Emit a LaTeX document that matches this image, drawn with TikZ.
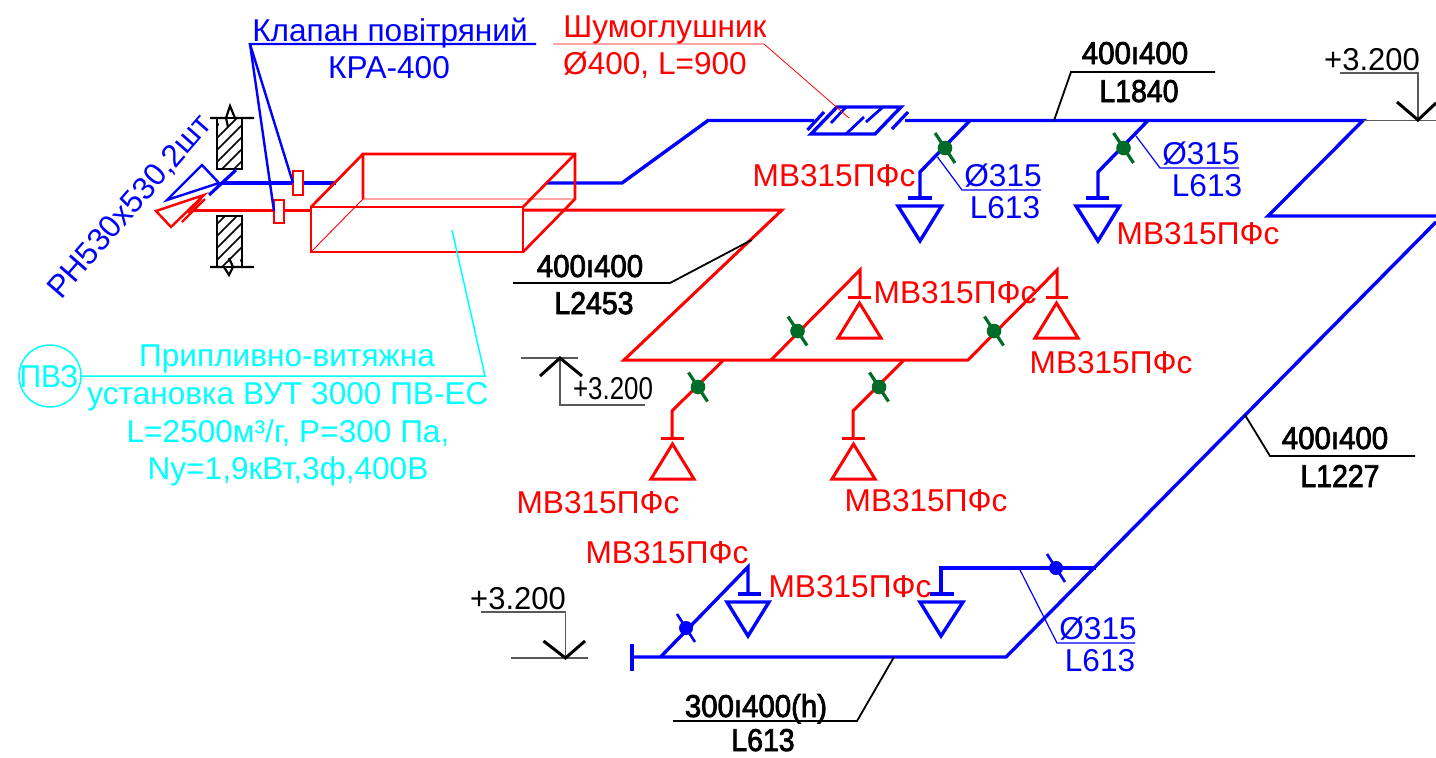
\documentclass[tikz,border=0pt]{standalone}
\usepackage{fontspec}
\usepackage{graphicx}
\setmainfont{Liberation Sans}
\newfontfamily\blkfont[FakeBold=2.5]{Liberation Sans}
\definecolor{pblue}{RGB}{0,0,255}
\definecolor{pred}{RGB}{255,0,0}
\definecolor{pcyan}{RGB}{0,255,255}
\definecolor{pgreen}{RGB}{0,108,40}
\definecolor{pgray}{RGB}{90,90,90}
\newcommand{\sx}[2]{\scalebox{#1}[1]{#2}}
\tikzset{
  lab/.style={inner sep=0pt,anchor=base,font=\fontsize{31.6}{32}\selectfont},
  redlab/.style={lab,text=pred},
  bluelab/.style={lab,text=pblue},
  cyanlab/.style={lab,text=pcyan},
  blacklab/.style={lab,text=black},
  boldlab/.style={lab,text=black,font=\fontsize{31.6}{32}\blkfont},
  bduct/.style={draw=pblue,line width=3.4pt,line join=miter},
  rduct/.style={draw=pred,line width=3pt,line join=miter},
  bthin/.style={draw=pblue,line width=1.2pt},
  rbox/.style={draw=pred,line width=2.7pt},
  blead/.style={draw=pblue,line width=2.4pt},
  lead/.style={draw=black,line width=1.8pt},
  glead/.style={draw=pgray,line width=1.4pt},
  chev/.style={draw=black,line width=3pt},
  wall/.style={draw=black,line width=2.2pt},
  gdamp/.style={draw=pgreen,line width=3.2pt},
  gdot/.style={fill=pgreen,draw=none},
  bdot/.style={fill=pblue,draw=none},
}
\begin{document}
\begin{tikzpicture}[x=1pt,y=-1pt]
\useasboundingbox (0,0) rectangle (1436,758);
% walls
\foreach \ya/\yb in {118/169,216/267}{
 \begin{scope}
  \clip (217,\ya) rectangle (242,\yb);
  \foreach \k in {0,...,7}{\draw[black,line width=1.7pt] (210,\ya+\k*12+3) -- (250,\ya+\k*12-37);}
 \end{scope}
 \draw[wall] (217,\ya) rectangle (242,\yb);
}
\fill[white] (219,119) -- (227,119) -- (226,125) -- (219,130) -- cycle;
\fill[white] (240,266) -- (232,266) -- (233,260) -- (240,255) -- cycle;
\draw[wall] (210,118) -- (226,118) -- (230,106) -- (235,118) -- (254,118);
\draw[wall] (226,118) -- (228,127);
\draw[wall] (210,267) -- (224,267) -- (229,275) -- (233,267) -- (254,267);
\draw[wall] (233,267) -- (229,258);
% blue supply line
\draw[bduct] (222,183) -- (336,183);
\draw[bduct] (546,183) -- (622,183) -- (708,120.5) -- (814,120.5);
\draw[bduct] (905,120.5) -- (1363,120.5) -- (1268,216) -- (1436,216);
\draw[bduct] (1436,222) -- (1006,657) -- (632,657);
\draw[bduct] (632,644) -- (632,671);
% grille blue
\draw[blead,line join=miter] (167,200) -- (202,165) -- (219,183) -- cycle;
\draw[draw=pblue,line width=3.2pt] (209,195) -- (236,170);
% grille red
\draw[draw=pred,line width=2.4pt] (156,211) -- (171,227) -- (204,195) -- cycle;
\draw[draw=pred,line width=2.2pt] (182,222) -- (205,199);
\draw[draw=pred,line width=2.2pt] (188,213) -- (201,199);
% red main
\draw[rduct] (193,210) -- (311,210);
\draw[rduct] (523,210) -- (782,210) -- (624,360) -- (968,360) -- (1057,270) -- (1057,297);
\draw[rduct] (771,360) -- (860,270) -- (860,297);
\draw[rduct] (723.5,360) -- (672,411) -- (672,438);
\draw[rduct] (904,360) -- (853,411) -- (853,438);
% red bars
\draw[rduct] (1046,297) -- (1068,297);
\draw[rduct] (848,297) -- (871,297);
\draw[rduct] (661,438) -- (684,438);
\draw[rduct] (842,438) -- (865,438);
% red diffusers
\draw[rduct] (1056.5,303) -- (1035,338) -- (1078,338) -- cycle;
\draw[rduct] (859.5,303) -- (838,338) -- (881,338) -- cycle;
\draw[rduct] (672.5,444) -- (651,479) -- (694,479) -- cycle;
\draw[rduct] (853.5,444) -- (832,479) -- (875,479) -- cycle;
% dampers red branch
\foreach \cx/\cy in {698/387,879/387,797.5/331,994/331}{
 \draw[gdamp] (\cx-9.5,\cy-14.5) -- (\cx+9.5,\cy+14.5);
 \fill[gdot] (\cx,\cy) circle (7.3);
}
% blue branches upper
\draw[bduct] (970,120.5) -- (920,172) -- (920,198);
\draw[bduct] (908,198) -- (932,198);
\draw[bduct] (898,206) -- (941.5,206) -- (920,241) -- cycle;
\draw[bduct] (1148,120.5) -- (1098,172) -- (1098,198);
\draw[bduct] (1086,198) -- (1109,198);
\draw[bduct] (1076,206) -- (1119.5,206) -- (1098,241) -- cycle;
\foreach \cx/\cy in {945/148,1123.5/148}{
 \draw[gdamp] (\cx-10,\cy-15) -- (\cx+10,\cy+15);
 \fill[gdot] (\cx,\cy) circle (7.3);
}
% blue branches lower
\draw[bduct] (660.5,657) -- (748,567) -- (748,594);
\draw[bduct] (738,594) -- (761,594);
\draw[bduct] (727,602) -- (769,602) -- (748,636) -- cycle;
\draw[bduct] (1095.5,568) -- (941,568) -- (941,594);
\draw[bduct] (930,594) -- (954,594);
\draw[bduct] (920,602) -- (963,602) -- (941,636) -- cycle;
\foreach \cx/\cy/\dx/\dy in {686/628/9/14,1056/568/9/14}{
 \draw[draw=pblue,line width=2.6pt] (\cx-\dx,\cy-\dy) -- (\cx+\dx,\cy+\dy);
 \fill[bdot] (\cx,\cy) circle (7);
}
% silencer
\draw[bduct] (811,134) -- (875,134) -- (901,107) -- (837,107) -- cycle;
\draw[draw=pblue,line width=3.2pt] (807.5,130) -- (824,112);
\draw[draw=pblue,line width=3.2pt] (892,129) -- (908,112);
\draw[draw=pblue,line width=2.8pt] (831,123) -- (846,107);
\draw[draw=pblue,line width=2.8pt] (846,134) -- (864,117);
\draw[draw=pblue,line width=2.8pt] (866,122) -- (883,107);
\draw[draw=pred,line width=.8pt] (553,44) -- (764,44) -- (849,118);
% box
\draw[draw=pred,line width=.9pt] (311,252) -- (363,199) -- (575,199);
\draw[rbox] (363,199) -- (363,154) -- (575,154) -- (575,199) -- (523,252);
\draw[rbox] (311,207) -- (363,154);
\draw[rbox] (523,207) -- (575,154);
\draw[rbox] (311,207) rectangle (523,252);
% small dampers
\draw[draw=pred,line width=2.8pt,fill=white] (293,171) rectangle (303,195);
\draw[draw=pred,line width=2.8pt,fill=white] (274,200) rectangle (284,223);
% valve leader
\draw[blead] (536,44) -- (250,44) -- (293,183);
\draw[blead] (250,44) -- (274,211);
% cyan
\draw[draw=pcyan,line width=1.5pt] (50,376) circle (31);
\draw[draw=pcyan,line width=1.5pt] (81,376) -- (485,376) -- (452,230);
% blue leaders
\draw[bthin] (937.5,157) -- (962,190) -- (1041,190);
\draw[bthin] (1136,136) -- (1160,168) -- (1239,168);
\draw[bthin] (1019,568) -- (1057,643) -- (1135,643);
% black leaders
\draw[lead] (1054,120.5) -- (1071,72) -- (1215,72);
\draw[lead] (751.5,240) -- (670,283) -- (513,283);
\draw[lead] (1245,415) -- (1270,456) -- (1415,456);
\draw[lead] (894,657) -- (857,721) -- (673,721);
% level marks
\draw[glead] (1340,73) -- (1418,73) -- (1418,120);
\draw[glead] (1363,120.5) -- (1436,120.5);
\draw[chev] (1397,102) -- (1418,120) -- (1436,103);
\draw[glead] (521,358) -- (578,358);
\draw[glead] (560,358) -- (560,405) -- (645,405);
\draw[chev] (540,376) -- (560,358) -- (582,376);
\draw[glead] (481,612) -- (565.5,612) -- (565.5,658);
\draw[glead] (511,658) -- (587.5,658);
\draw[chev] (543.5,641) -- (565.5,658) -- (585,641);
% labels
\node[bluelab] (valve1) at (390,41) {Клапан повітряний};
\node[bluelab] (valve2) at (389,78) {КРА-400};
\node[redlab] (sil1) at (665,37) {Шумоглушник};
\node[redlab] (sil2) at (655,74) {Ø400, L=900};
\node[bluelab,rotate=49] (grille) at (137,213) {РН530х530,2шт};
\node[cyanlab] (pvz) at (49,387) {\sx{.95}{ПВЗ}};
\node[cyanlab] (c1) at (287,366) {Припливно-витяжна};
\node[cyanlab] (c2) at (288,404) {установка ВУТ 3000 ПВ-ЕС};
\node[cyanlab] (c3) at (288,442) {L=2500м³/г, P=300 Па,};
\node[cyanlab] (c4) at (288,479) {Ny=1,9кВт,3ф,400В};
\node[redlab] (m1) at (834,186) {МВ315ПФс};
\node[redlab] (m2) at (1198,244) {МВ315ПФс};
\node[redlab] (m3) at (955,303) {МВ315ПФс};
\node[redlab] (m4) at (1111,373) {МВ315ПФс};
\node[redlab] (m5) at (598,513) {МВ315ПФс};
\node[redlab] (m6) at (926,511) {МВ315ПФс};
\node[redlab] (m7) at (667,563) {МВ315ПФс};
\node[redlab] (m8) at (850,597) {МВ315ПФс};
\node[bluelab] (d1) at (1003,186) {Ø315};
\node[bluelab] (d1b) at (1005,218) {L613};
\node[bluelab] (d2) at (1201,164) {Ø315};
\node[bluelab] (d2b) at (1207,196) {L613};
\node[bluelab] (d3) at (1098,639) {Ø315};
\node[bluelab] (d3b) at (1100,671) {L613};
\node[boldlab] (k1) at (1135,64) {\sx{.93}{400ı400}};
\node[boldlab] (k1b) at (1139,102) {\sx{.9}{L1840}};
\node[boldlab] (k2) at (590,277) {\sx{.93}{400ı400}};
\node[boldlab] (k2b) at (594,314) {\sx{.9}{L2453}};
\node[boldlab] (k3) at (1335,449) {\sx{.93}{400ı400}};
\node[boldlab] (k3b) at (1340,487) {\sx{.9}{L1227}};
\node[boldlab] (k4) at (756,717) {\sx{.93}{300ı400(h)}};
\node[boldlab] (k4b) at (763,751) {\sx{.9}{L613}};
\node[blacklab] (lv1) at (1372,70) {\sx{.98}{+3.200}};
\node[blacklab] (lv2) at (613,399) {\sx{.82}{+3.200}};
\node[blacklab] (lv3) at (518,609) {\sx{.98}{+3.200}};
\end{tikzpicture}
\end{document}
